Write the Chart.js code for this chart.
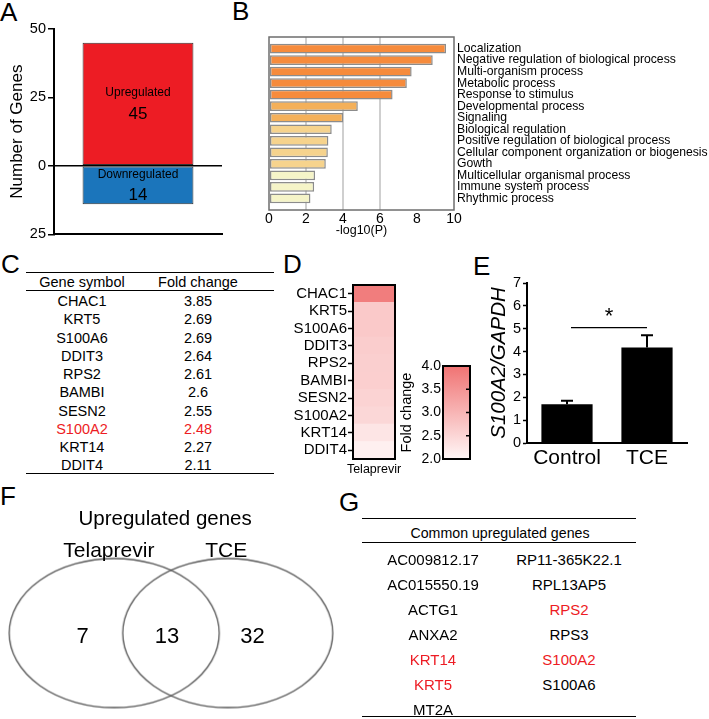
<!DOCTYPE html>
<html>
<head>
<meta charset="utf-8">
<script src="https://cdn.jsdelivr.net/npm/chart.js@4.4.0/dist/chart.umd.min.js"></script>
<style>
html, body { margin: 0; padding: 0; background: #fff; }
body { width: 709px; height: 719px; position: relative; overflow: hidden; font-family: Arial, "Liberation Sans", Helvetica, sans-serif; color: #000; }
canvas { position: absolute; }
.t { position: absolute; white-space: nowrap; line-height: 1; transform: translate(-50%, -50%); }
.lbl { position: absolute; font-size: 26px; line-height: 1; }
.ln { position: absolute; height: 0; border-top: 1.5px solid #000; }
</style>
</head>
<body>
<div class="lbl" style="left:0px;top:-1px">A</div>
<div class="lbl" style="left:232px;top:-2px">B</div>
<div class="lbl" style="left:1px;top:251px">C</div>
<div class="lbl" style="left:283px;top:251px">D</div>
<div class="lbl" style="left:473px;top:253px">E</div>
<div class="lbl" style="left:0px;top:483px">F</div>
<div class="lbl" style="left:339px;top:489px">G</div>

<canvas id="chartA" width="230" height="245" style="left:0px;top:0px"></canvas>
<canvas id="chartB" width="479" height="240" style="left:230px;top:0px"></canvas>
<canvas id="chartD" width="125" height="205" style="left:280px;top:275px"></canvas>
<canvas id="chartCB" width="80" height="115" style="left:395px;top:355px"></canvas>
<canvas id="chartE" width="239" height="200" style="left:470px;top:270px"></canvas>
<canvas id="chartF" width="340" height="239" style="left:0px;top:480px"></canvas>

<script>
// A: number of differentially expressed genes
var regLabels = ["Upregulated", "Downregulated"];
var regCounts = [45, 14];
var regColors = ["#ED1C24", "#1B75BB"];

// B: GO enrichment
var goTerms = [
	"Localization",
	"Negative regulation of biological process",
	"Multi-organism process",
	"Metabolic process",
	"Response to stimulus",
	"Developmental process",
	"Signaling",
	"Biological regulation",
	"Positive regulation of biological process",
	"Cellular component organization or biogenesis",
	"Gowth",
	"Multicellular organismal process",
	"Immune system process",
	"Rhythmic process",
];
var goLogP = [9.57, 8.85, 7.71, 7.45, 6.68, 4.8, 4.01, 3.39, 3.21, 3.18, 3.07, 2.49, 2.44, 2.24];
var goColors = [
	"#F68B3C", "#F68B3C", "#F68B3C", "#F68B3C", "#F68B3C",
	"#F4B05A", "#F4B05A",
	"#F6D38D", "#F6D38D", "#F6D38D", "#F6D38D",
	"#F5F4C8", "#F5F4C8", "#F5F4C8",
];

// C / D: top upregulated genes (Telaprevir)
var geneSymbols = ["CHAC1", "KRT5", "S100A6", "DDIT3", "RPS2", "BAMBI", "SESN2", "S100A2", "KRT14", "DDIT4"];
var foldChange = ["3.85", "2.69", "2.69", "2.64", "2.61", "2.6", "2.55", "2.48", "2.27", "2.11"];
var highlightGene = "S100A2";
var heatSample = "Telaprevir";
var foldScale = [2, 4];

// E: qPCR
var qpcrGroups = ["Control", "TCE"];
var qpcrMean = [1.7, 4.18];
var qpcrErr = [0.15, 0.53];
var sigMark = "*";

// F: Venn
var vennTitle = "Upregulated genes";
var vennSets = ["Telaprevir", "TCE"];
var vennCounts = [7, 13, 32];

// G: common genes
var commonGenes = [
	"AC009812.17", "AC015550.19", "ACTG1", "ANXA2", "KRT14", "KRT5", "MT2A",
	"RP11-365K22.1", "RPL13AP5", "RPS2", "RPS3", "S100A2", "S100A6",
];
var commonRed = ["KRT14", "KRT5", "RPS2", "S100A2"];

var FONT = 'Arial, "Liberation Sans", Helvetica, sans-serif';
var RED = "#ED1C24";
Chart.defaults.font.family = FONT;
Chart.defaults.color = "#000";
Chart.defaults.animation = false;
Chart.defaults.plugins.legend.display = false;
Chart.defaults.plugins.tooltip.enabled = false;

function framePlugin(color, width) {
	return {
		id: "frame",
		afterDraw: function (chart) {
			var a = chart.chartArea;
			var ctx = chart.ctx;
			ctx.save();
			ctx.strokeStyle = color;
			ctx.lineWidth = width;
			ctx.strokeRect(a.left, a.top, a.right - a.left, a.bottom - a.top);
			ctx.restore();
		},
	};
}

// small inward tick marks on the right edge of the colour bar
var innerTicks = {
	id: "innerTicks",
	afterDraw: function (chart) {
		var a = chart.chartArea;
		var ctx = chart.ctx;
		var y = chart.scales.y;
		ctx.save();
		ctx.strokeStyle = "#000";
		ctx.lineWidth = 1.5;
		y.ticks.forEach(function (t) {
			var py = y.getPixelForValue(t.value);
			ctx.beginPath();
			ctx.moveTo(a.right - 4, py);
			ctx.lineTo(a.right, py);
			ctx.stroke();
		});
		ctx.restore();
	},
};

function foldColor(v) {
	var t = (v - foldScale[0]) / (foldScale[1] - foldScale[0]);
	var lo = [255, 247, 247];
	var hi = [240, 115, 115];
	var c = lo.map(function (l, i) { return Math.round(l + (hi[i] - l) * t); });
	return "rgb(" + c.join(",") + ")";
}

function addText(text, x, y, size, color) {
	var d = document.createElement("div");
	d.className = "t";
	d.textContent = text;
	d.style.left = x + "px";
	d.style.top = y + "px";
	d.style.fontSize = size + "px";
	if (color) d.style.color = color;
	document.body.appendChild(d);
}

function addLine(x1, x2, y) {
	var d = document.createElement("div");
	d.className = "ln";
	d.style.left = x1 + "px";
	d.style.top = y + "px";
	d.style.width = (x2 - x1) + "px";
	document.body.appendChild(d);
}

// ---- A ----
var barTextA = {
	id: "barTextA",
	afterDatasetsDraw: function (chart) {
		var ctx = chart.ctx;
		chart.data.datasets.forEach(function (ds, i) {
			var bar = chart.getDatasetMeta(i).data[0];
			var cy = (bar.y + bar.base) / 2;
			ctx.save();
			ctx.fillStyle = "#000";
			ctx.textAlign = "center";
			ctx.textBaseline = "middle";
			ctx.font = "12px " + FONT;
			ctx.fillText(ds.label, bar.x, cy - 11);
			ctx.font = "17px " + FONT;
			ctx.fillText(String(regCounts[i]), bar.x, cy + 10);
			ctx.restore();
		});
	},
};

new Chart("chartA", {
	type: "bar",
	data: {
		labels: [""],
		datasets: regLabels.map(function (name, i) {
			return {
				label: name,
				data: [i === 0 ? regCounts[i] : -regCounts[i]],
				backgroundColor: regColors[i],
				borderColor: "#333",
				borderWidth: 1,
				borderSkipped: false,
				categoryPercentage: 1,
				barPercentage: 0.66,
			};
		}),
	},
	options: {
		responsive: false,
		layout: { padding: { top: 29, right: 8, bottom: 8 } },
		scales: {
			x: {
				stacked: true,
				grid: { display: false, drawTicks: false },
				ticks: { display: false },
				border: { color: "#000", width: 2 },
				afterFit: function (s) { s.height = 0; },
			},
			y: {
				stacked: true,
				min: -25,
				max: 50,
				ticks: { stepSize: 25, font: { size: 14.5 }, padding: 2, callback: function (v) { return Math.abs(v); } },
				grid: {
					color: function (c) { return c.tick && c.tick.value === 0 ? "#000" : "rgba(0,0,0,0)"; },
					lineWidth: 1.5,
					tickLength: 6,
					tickColor: "#000",
					tickWidth: 1.5,
				},
				border: { color: "#000", width: 2 },
				title: { display: true, text: "Number of Genes", font: { size: 17 }, padding: { top: 7 } },
				afterFit: function (s) { s.width = 54; },
			},
		},
	},
	plugins: [barTextA],
});

// ---- B ----
new Chart("chartB", {
	type: "bar",
	data: {
		labels: [""].concat(goTerms, [""]),
		datasets: [
			{
				data: [null].concat(goLogP, [null]),
				backgroundColor: ["#fff"].concat(goColors, ["#fff"]),
				borderColor: "#8c8c8c",
				borderWidth: 1.5,
				borderSkipped: false,
				categoryPercentage: 1,
				barPercentage: 0.84,
			},
		],
	},
	options: {
		indexAxis: "y",
		responsive: false,
		layout: { padding: { left: 39, top: 37 } },
		scales: {
			x: {
				min: 0,
				max: 10,
				ticks: { stepSize: 2, font: { size: 14 }, padding: 1 },
				grid: {
					color: function (c) { return c.tick && [2, 4, 6].indexOf(c.tick.value) >= 0 ? "#cfcfcf" : "rgba(0,0,0,0)"; },
					lineWidth: 2,
					drawTicks: false,
				},
				border: { display: false },
				title: { display: true, text: "-log10(P)", font: { size: 12.5 }, padding: { top: 0, bottom: 2 } },
				afterFit: function (s) { s.height = 30; },
			},
			y: {
				position: "right",
				offset: false,
				grid: { display: false, drawTicks: false },
				border: { display: false },
				ticks: { autoSkip: false, font: { size: 12.2 }, padding: 3 },
				afterFit: function (s) { s.width = 255; },
			},
		},
	},
	plugins: [framePlugin("#6e6e6e", 1.5)],
});

// ---- C (table) ----
addLine(26, 274, 272);
addLine(26, 274, 290);
addLine(26, 274, 473);
addText("Gene symbol", 82, 282, 14.5);
addText("Fold change", 198, 282, 14.5);
geneSymbols.forEach(function (g, i) {
	var col = g === highlightGene ? RED : null;
	var y = 301 + i * 18.25;
	addText(g, 82, y, 14.5, col);
	addText(foldChange[i], 198, y, 14.5, col);
});

// ---- D (heatmap + colour bar) ----
var sampleLabel = {
	id: "sampleLabel",
	afterDraw: function (chart) {
		var a = chart.chartArea;
		var ctx = chart.ctx;
		ctx.save();
		ctx.fillStyle = "#000";
		ctx.font = "12.5px " + FONT;
		ctx.textAlign = "center";
		ctx.textBaseline = "middle";
		ctx.fillText(heatSample, (a.left + a.right) / 2, a.bottom + 11);
		ctx.restore();
	},
};

new Chart("chartD", {
	type: "bar",
	data: {
		labels: geneSymbols,
		datasets: [
			{
				// every cell fills the column; colour carries the fold change
				data: geneSymbols.map(function () { return 1; }),
				backgroundColor: foldChange.map(function (v) { return foldColor(parseFloat(v)); }),
				borderWidth: 0,
				categoryPercentage: 1,
				barPercentage: 1,
			},
		],
	},
	options: {
		indexAxis: "y",
		responsive: false,
		layout: { padding: { top: 8, right: 10 } },
		scales: {
			x: {
				min: 0,
				max: 1,
				ticks: { display: false },
				grid: { display: false, drawTicks: false },
				border: { display: false },
				afterFit: function (s) { s.height = 21; },
			},
			y: {
				grid: { offset: false, drawOnChartArea: false, tickLength: 5, tickColor: "#000", tickWidth: 1.5 },
				border: { display: false },
				ticks: { autoSkip: false, font: { size: 15 }, padding: 1 },
				afterFit: function (s) { s.width = 73; },
			},
		},
	},
	plugins: [framePlugin("#000", 2), sampleLabel],
});

new Chart("chartCB", {
	type: "bar",
	data: {
		labels: [""],
		datasets: [
			{
				data: [foldScale],
				backgroundColor: function (c) {
					var a = c.chart.chartArea;
					if (!a) return foldColor(3);
					var g = c.chart.ctx.createLinearGradient(0, a.bottom, 0, a.top);
					g.addColorStop(0, foldColor(foldScale[0]));
					g.addColorStop(1, foldColor(foldScale[1]));
					return g;
				},
				borderWidth: 0,
				categoryPercentage: 1,
				barPercentage: 1,
			},
		],
	},
	options: {
		responsive: false,
		layout: { padding: { top: 11, right: 5, bottom: 11 } },
		scales: {
			x: { display: false },
			y: {
				min: foldScale[0],
				max: foldScale[1],
				ticks: { stepSize: 0.5, font: { size: 14 }, padding: 2, callback: function (v) { return v.toFixed(1); } },
				grid: { display: false, drawTicks: false },
				border: { display: false },
				title: { display: true, text: "Fold change", font: { size: 14.5 }, padding: { top: 3 } },
				afterFit: function (s) { s.width = 48; },
			},
		},
	},
	plugins: [framePlugin("#000", 2), innerTicks],
});

// ---- E ----
var errorBars = {
	id: "errorBars",
	afterDatasetsDraw: function (chart) {
		var ctx = chart.ctx;
		var y = chart.scales.y;
		var bars = chart.getDatasetMeta(0).data;
		ctx.save();
		ctx.strokeStyle = "#000";
		ctx.lineWidth = 2;
		bars.forEach(function (bar, i) {
			var top = y.getPixelForValue(qpcrMean[i] + qpcrErr[i]);
			ctx.beginPath();
			ctx.moveTo(bar.x, bar.y);
			ctx.lineTo(bar.x, top);
			ctx.moveTo(bar.x - 6, top);
			ctx.lineTo(bar.x + 6, top);
			ctx.stroke();
		});
		var ly = y.getPixelForValue(5.05);
		ctx.lineWidth = 1.2;
		ctx.beginPath();
		ctx.moveTo(bars[0].x + 4, ly);
		ctx.lineTo(bars[1].x, ly);
		ctx.stroke();
		ctx.fillStyle = "#000";
		ctx.font = "22px " + FONT;
		ctx.textAlign = "center";
		ctx.textBaseline = "alphabetic";
		ctx.fillText(sigMark, (bars[0].x + bars[1].x) / 2 + 2, ly - 5);
		ctx.restore();
	},
};

new Chart("chartE", {
	type: "bar",
	data: {
		labels: qpcrGroups,
		datasets: [
			{
				data: qpcrMean,
				backgroundColor: "#000",
				borderWidth: 0,
				categoryPercentage: 1,
				barPercentage: 0.64,
			},
		],
	},
	options: {
		responsive: false,
		layout: { padding: { top: 13, right: 22 } },
		scales: {
			x: {
				grid: { display: false, drawTicks: false },
				border: { color: "#000", width: 2 },
				ticks: { font: { size: 21 }, padding: 3 },
				afterFit: function (s) { s.height = 27; },
			},
			y: {
				min: 0,
				max: 7,
				ticks: { stepSize: 1, font: { size: 14.5 }, padding: 2 },
				grid: { drawOnChartArea: false, tickLength: 4, tickColor: "#000", tickWidth: 1.5 },
				border: { color: "#000", width: 2 },
				title: { display: true, text: "S100A2/GAPDH", font: { size: 20.5, style: "italic" }, padding: { top: 17 } },
				afterFit: function (s) { s.width = 57; },
			},
		},
	},
	plugins: [errorBars],
});

// ---- F (Venn) ----
function ellipseImage(rx, ry) {
	var c = document.createElement("canvas");
	c.width = Math.ceil(rx * 2 + 4);
	c.height = Math.ceil(ry * 2 + 4);
	var g = c.getContext("2d");
	g.strokeStyle = "#555";
	g.lineWidth = 1.3;
	g.beginPath();
	g.ellipse(c.width / 2, c.height / 2, rx, ry, 0, 0, Math.PI * 2);
	g.stroke();
	return c;
}

var vennText = {
	id: "vennText",
	afterDatasetsDraw: function (chart) {
		var ctx = chart.ctx;
		var sx = chart.scales.x;
		var sy = chart.scales.y;
		ctx.save();
		ctx.fillStyle = "#000";
		ctx.textAlign = "center";
		ctx.textBaseline = "alphabetic";
		ctx.font = "20.5px " + FONT;
		ctx.fillText(vennTitle, sx.getPixelForValue(165), sy.getPixelForValue(42));
		ctx.font = "21px " + FONT;
		ctx.fillText(vennSets[0], sx.getPixelForValue(107), sy.getPixelForValue(75));
		ctx.fillText(vennSets[1], sx.getPixelForValue(228), sy.getPixelForValue(75));
		ctx.font = "22px " + FONT;
		[80, 167, 255].forEach(function (x, i) {
			ctx.fillText(String(vennCounts[i]), sx.getPixelForValue(x), sy.getPixelForValue(165));
		});
		ctx.restore();
	},
};

new Chart("chartF", {
	type: "scatter",
	data: {
		datasets: [
			{
				data: [{ x: 112.5, y: 154.5 }, { x: 229.5, y: 154.5 }],
				pointStyle: ellipseImage(105, 74.5),
				pointRadius: 3,
			},
		],
	},
	options: {
		responsive: false,
		layout: { padding: 0 },
		scales: {
			x: { display: false, min: 0, max: 340 },
			y: { display: false, min: 0, max: 239, reverse: true },
		},
	},
	plugins: [vennText],
});

// ---- G (table) ----
addLine(362, 636, 518);
addLine(362, 636, 542);
addLine(362, 636, 716);
addText("Common upregulated genes", 500, 533, 14.2);
var half = Math.ceil(commonGenes.length / 2);
commonGenes.forEach(function (g, i) {
	var col = i < half ? 0 : 1;
	var row = i < half ? i : i - half;
	addText(g, col === 0 ? 433 : 569, 559 + row * 25, 15, commonRed.indexOf(g) >= 0 ? RED : null);
});
</script>
</body>
</html>
